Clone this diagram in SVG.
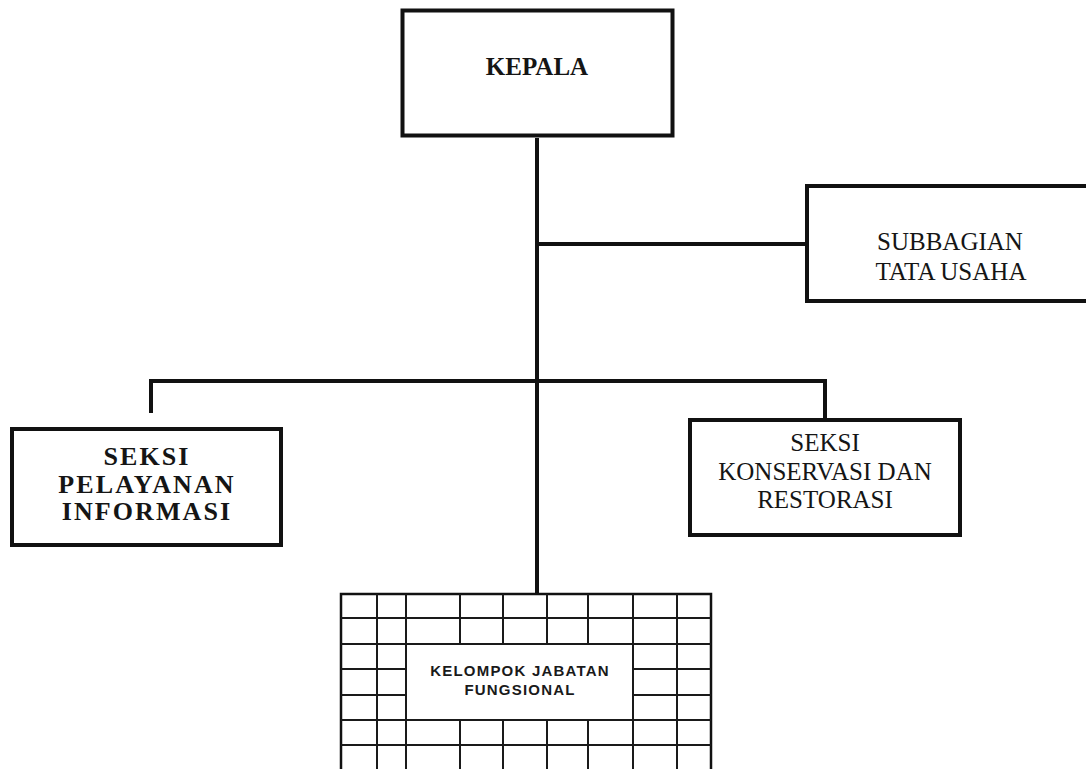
<svg xmlns="http://www.w3.org/2000/svg" width="1086" height="769" viewBox="0 0 1086 769">
<style>
.box{fill:#fff;stroke:#111;stroke-width:4}
.conn{fill:none;stroke:#111;stroke-width:4;stroke-linecap:butt;stroke-linejoin:miter}
.serif{font-family:"Liberation Serif","Times New Roman",serif;font-size:25px;fill:#151515;text-anchor:middle}
.bold{font-weight:bold}
.big{font-size:26px;letter-spacing:2.1px}
.grid{stroke:#1a1a1a;stroke-width:2;fill:none}
.sans{font-family:"Liberation Sans",Arial,sans-serif;font-size:15px;font-weight:bold;fill:#1a1a1a;text-anchor:middle;letter-spacing:1.2px}
</style>
<rect width="1086" height="769" fill="#fff"/>
<g id="connectors">
<path class="conn" d="M537 138 V593"/>
<path class="conn" d="M537 244 H806" stroke-width="3.5"/>
<path class="conn" d="M151 413 V381 H825 V420"/>
</g>
<g id="kepala">
<rect class="box" x="402.5" y="10.5" width="270" height="125" stroke-width="5"/>
<text class="serif bold" x="537" y="75">KEPALA</text>
</g>
<g id="subbagian">
<rect class="box" x="807" y="186" width="300" height="115"/>
<text class="serif" x="950" y="250">SUBBAGIAN</text>
<text class="serif" x="951" y="280">TATA USAHA</text>
</g>
<g id="seksi-pelayanan">
<rect class="box" x="12" y="429" width="269" height="116"/>
<text class="serif bold big" x="147" y="465">SEKSI</text>
<text class="serif bold big" x="147" y="493">PELAYANAN</text>
<text class="serif bold big" x="147" y="520">INFORMASI</text>
</g>
<g id="seksi-konservasi">
<rect class="box" x="690" y="420" width="270" height="115"/>
<text class="serif" x="825" y="451">SEKSI</text>
<text class="serif" x="825" y="480">KONSERVASI DAN</text>
<text class="serif" x="825" y="508">RESTORASI</text>
</g>
<g id="kelompok">
<rect x="341" y="594" width="370" height="200" fill="#fff" stroke="#111" stroke-width="2.5"/>
<path class="grid" d="M377 594 V769 M406 594 V769 M633 594 V769 M677 594 V769
M460 594 V644 M503 594 V644 M547 594 V644 M588 594 V644
M460 720 V769 M503 720 V769 M547 720 V769 M588 720 V769
M341 618 H711 M341 644 H711 M341 720 H711 M341 745 H711
M341 669 H406 M341 695 H406 M633 669 H711 M633 695 H711"/>
<text class="sans" x="520" y="676">KELOMPOK JABATAN</text>
<text class="sans" x="520" y="695">FUNGSIONAL</text>
</g>
</svg>
